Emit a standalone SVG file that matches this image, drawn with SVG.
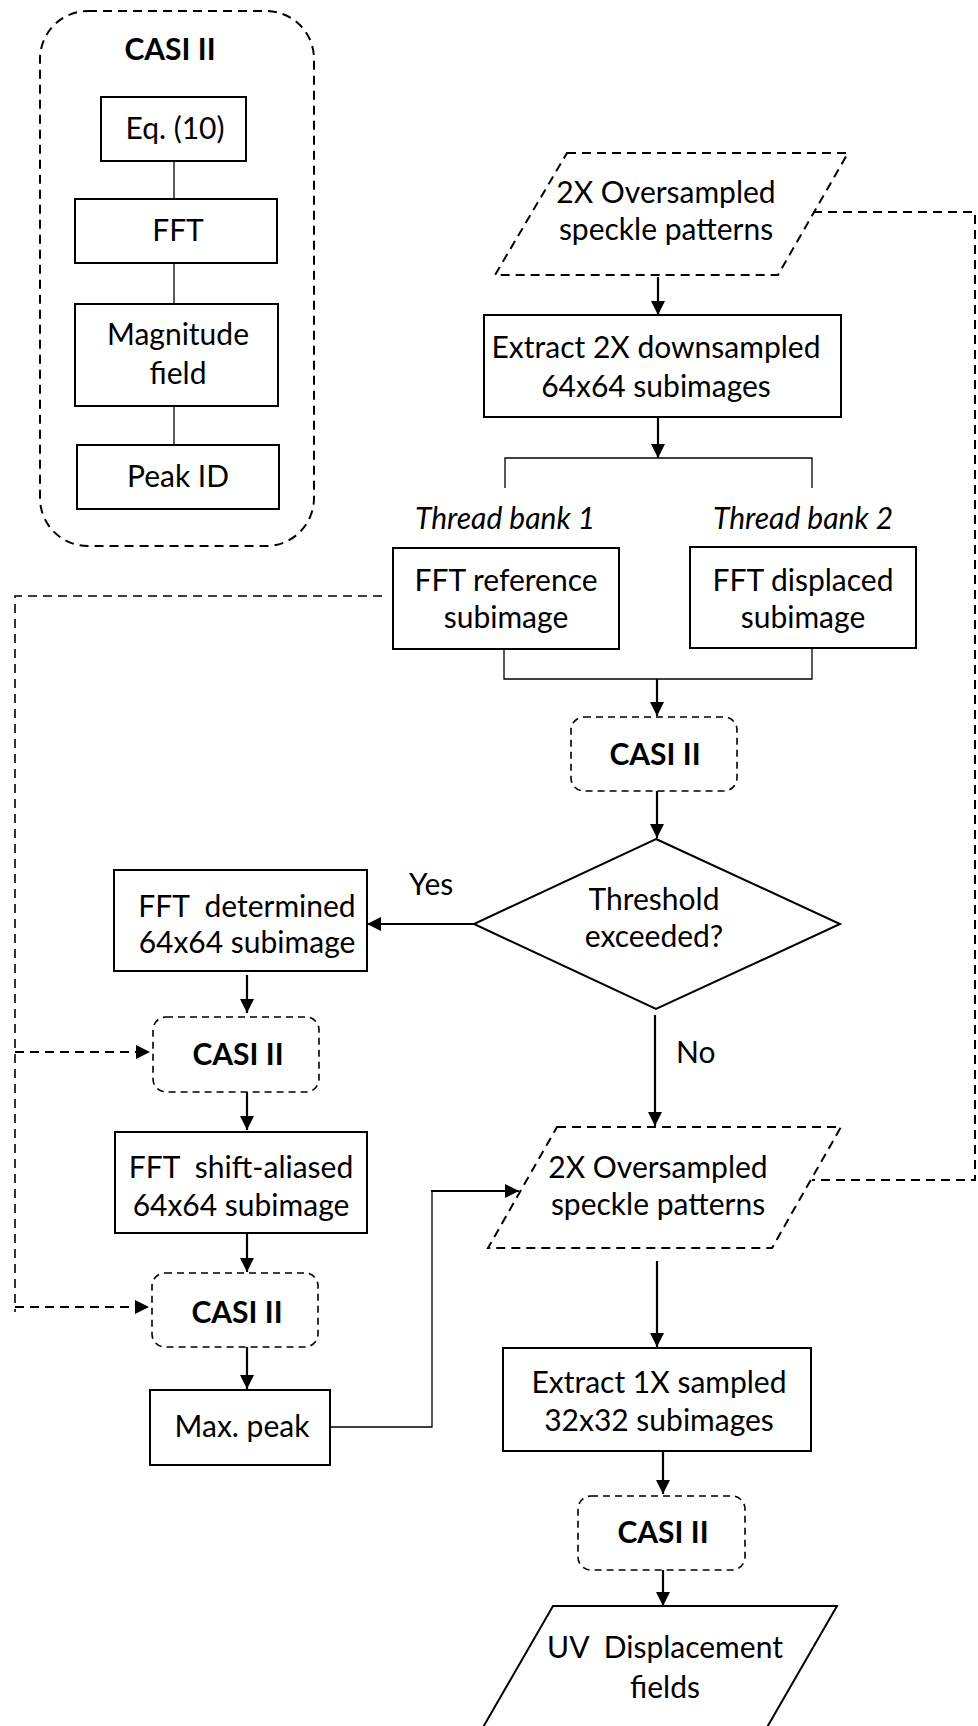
<svg xmlns="http://www.w3.org/2000/svg" width="978" height="1726" viewBox="0 0 978 1726">
<style>
text{font-family:Lato,"Open Sans","Liberation Sans",sans-serif;font-size:30px;fill:#000;text-anchor:middle}
.b{font-weight:bold}
.i{font-style:italic;text-anchor:start}
.st{text-anchor:start}
.box{fill:#fff;stroke:#000;stroke-width:2}
.dbox{fill:#fff;stroke:#000;stroke-width:1.6;stroke-dasharray:7 5}
.dpar{fill:#fff;stroke:#000;stroke-width:2;stroke-dasharray:9 6}
.par{fill:#fff;stroke:#000;stroke-width:2}
.arr{fill:none;stroke:#000;stroke-width:2.2;marker-end:url(#ah)}
.thin{fill:none;stroke:#000;stroke-width:1.3}
.dash{fill:none;stroke:#000;stroke-width:2;stroke-dasharray:9 6}
.darr{fill:none;stroke:#000;stroke-width:2;stroke-dasharray:9 6;marker-end:url(#ah)}
</style>
<defs>
<marker id="ah" markerUnits="userSpaceOnUse" markerWidth="14" markerHeight="14" refX="14" refY="7" orient="auto">
<path d="M0,0 L14,7 L0,14 z" fill="#000"/>
</marker>
</defs>

<g id="casi-panel">
<rect x="40" y="11" width="274" height="535" rx="48" ry="48" class="dbox" style="stroke-width:2;stroke-dasharray:9 6"/>
<text x="170" y="60" class="b">CASI II</text>
</g>
<g id="eq10"><rect x="101" y="97" width="145" height="64" class="box"/><text x="175" y="139">Eq. (10)</text></g>
<g id="fft-panel"><rect x="75" y="199" width="202" height="64" class="box"/><text x="178" y="241">FFT</text></g>
<g id="magnitude"><rect x="75" y="304" width="203" height="102" class="box"/><text x="178" y="345">Magnitude</text><text x="178" y="384">field</text></g>
<g id="peakid"><rect x="77" y="445" width="202" height="64" class="box"/><text x="178" y="487">Peak ID</text></g>

<g id="para1"><polygon points="567,153 848,153 778,275 495,275" class="dpar"/><text x="666" y="203">2X Oversampled</text><text x="666" y="240">speckle patterns</text></g>
<g id="extract2x"><rect x="484" y="315" width="357" height="102" class="box"/><text x="656" y="358">Extract 2X downsampled</text><text x="656" y="397">64x64 subimages</text></g>
<g id="tb1"><text x="415" y="529" class="i">Thread bank 1</text></g>
<g id="tb2"><text x="713" y="529" class="i">Thread bank 2</text></g>
<g id="fftref"><rect x="393" y="548" width="226" height="101" class="box"/><text x="506" y="591">FFT reference</text><text x="506" y="628">subimage</text></g>
<g id="fftdisp"><rect x="690" y="547" width="226" height="101" class="box"/><text x="803" y="591">FFT displaced</text><text x="803" y="628">subimage</text></g>
<g id="casi1"><rect x="571" y="717" width="166" height="74" rx="13" class="dbox"/><text x="655" y="765" class="b">CASI II</text></g>
<g id="threshold"><polygon points="656,839 840,924 656,1009 474,924" class="par"/><text x="654" y="910">Threshold</text><text x="654" y="947">exceeded?</text></g>
<g id="yes"><text x="409" y="895" class="st">Yes</text></g>
<g id="no"><text x="676" y="1063" class="st">No</text></g>
<g id="fftdet"><rect x="114" y="870" width="253" height="101" class="box"/><text x="247" y="917" xml:space="preserve">FFT  determined</text><text x="247" y="953">64x64 subimage</text></g>
<g id="casi2"><rect x="153" y="1017" width="166" height="75" rx="13" class="dbox"/><text x="238" y="1065" class="b">CASI II</text></g>
<g id="fftshift"><rect x="115" y="1132" width="252" height="101" class="box"/><text x="241" y="1178" xml:space="preserve">FFT  shift-aliased</text><text x="241" y="1216">64x64 subimage</text></g>
<g id="casi3"><rect x="152" y="1273" width="166" height="74" rx="13" class="dbox"/><text x="237" y="1323" class="b">CASI II</text></g>
<g id="maxpeak"><rect x="150" y="1390" width="180" height="75" class="box"/><text x="242" y="1437">Max. peak</text></g>
<g id="para2"><polygon points="557,1127 841,1127 772,1248 488,1248" class="dpar"/><text x="658" y="1178">2X Oversampled</text><text x="658" y="1215">speckle patterns</text></g>
<g id="extract1x"><rect x="503" y="1348" width="308" height="103" class="box"/><text x="659" y="1393">Extract 1X sampled</text><text x="659" y="1431">32x32 subimages</text></g>
<g id="casi4"><rect x="578" y="1496" width="167" height="74" rx="13" class="dbox"/><text x="663" y="1543" class="b">CASI II</text></g>
<g id="uv"><polygon points="553,1606 837,1606 762,1736 478,1736" class="par"/><text x="665" y="1658" xml:space="preserve">UV  Displacement</text><text x="665" y="1698">fields</text></g>

<g id="connectors">
<line x1="174" y1="161" x2="174" y2="199" class="thin"/>
<line x1="174" y1="263" x2="174" y2="304" class="thin"/>
<line x1="174" y1="406" x2="174" y2="445" class="thin"/>
<line x1="658" y1="277" x2="658" y2="315" class="arr"/>
<line x1="658" y1="417" x2="658" y2="458" class="arr"/>
<polyline points="505,488 505,458 812,458 812,488" class="thin"/>
<polyline points="504,649 504,679 812,679 812,648" class="thin"/>
<line x1="657" y1="679" x2="657" y2="716" class="arr"/>
<line x1="657" y1="791" x2="657" y2="838" class="arr"/>
<line x1="474" y1="924" x2="367" y2="924" class="arr"/>
<line x1="655" y1="1015" x2="655" y2="1126" class="arr"/>
<line x1="247" y1="975" x2="247" y2="1013" class="arr"/>
<line x1="247" y1="1092" x2="247" y2="1130" class="arr"/>
<line x1="247" y1="1233" x2="247" y2="1272" class="arr"/>
<line x1="247" y1="1347" x2="247" y2="1389" class="arr"/>
<polyline points="330,1427 432,1427 432,1191" class="thin"/>
<line x1="431" y1="1191" x2="519" y2="1191" class="arr"/>
<line x1="657" y1="1261" x2="657" y2="1347" class="arr"/>
<line x1="663" y1="1451" x2="663" y2="1494" class="arr"/>
<line x1="663" y1="1570" x2="663" y2="1606" class="arr"/>
<polyline points="813,212 975,212 975,1180 812,1180" class="dash"/>
<polyline points="382,596 15,596 15,1312" class="dash" style="stroke-width:1.6"/>
<line x1="15" y1="1052" x2="150" y2="1052" class="darr"/>
<line x1="15" y1="1307" x2="149" y2="1307" class="darr"/>
</g>
</svg>
